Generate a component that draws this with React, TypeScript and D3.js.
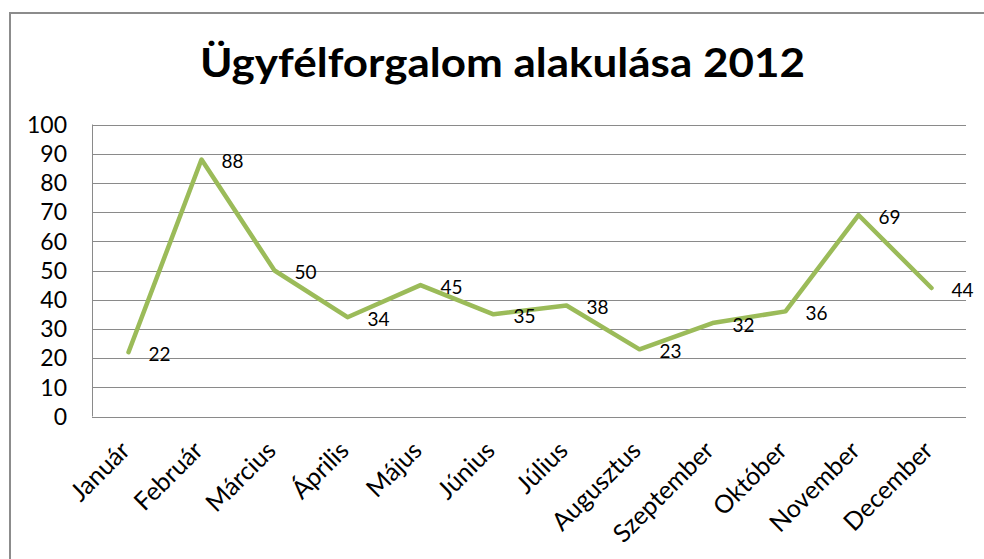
import React, { useEffect } from "react";
import * as d3 from "d3";

const months = ["Január", "Február", "Március", "Április", "Május", "Június", "Július", "Augusztus", "Szeptember", "Október", "November", "December"];
const values = [22, 88, 50, 34, 45, 35, 38, 23, 32, 36, 69, 44];
const yTicks = [0, 10, 20, 30, 40, 50, 60, 70, 80, 90, 100];
const title = "Ügyfélforgalom alakulása 2012";

const W = 984;
const H = 559;
const plot = { left: 92, right: 968, top: 124.5, bottom: 416.5 };
const FONT = "Lato, 'Open Sans', sans-serif";

export default function App() {
  useEffect(() => {
    document.body.style.margin = "0";
    document.body.style.overflow = "hidden";
    document.documentElement.style.overflow = "hidden";
  }, []);

  const x = d3.scaleBand<string>().domain(months).range([plot.left, plot.right]);
  const y = d3.scaleLinear().domain([0, 100]).range([plot.bottom, plot.top]);
  const cx = (m: string) => (x(m) as number) + x.bandwidth() / 2;
  const line = d3
    .line<number>()
    .x((_, i) => cx(months[i]))
    .y((d) => y(d));

  return (
    <svg
      width={W}
      height={H}
      style={{ position: "absolute", left: 0, top: 0, display: "block", background: "#fff" }}
      fontFamily={FONT}
    >
      <rect x={0} y={0} width={W} height={H} fill="#fff" />
      <path d={`M10,${H} V13 H${W}`} fill="none" stroke="#8c8c8c" strokeWidth={2} />
      <text
        x={(200 + 805) / 2}
        y={77}
        textAnchor="middle"
        fontSize={41}
        fontWeight="bold"
        fill="#000"
        textLength={605}
        lengthAdjust="spacingAndGlyphs"
      >
        {title}
      </text>
      {yTicks.map((t) => (
        <g key={t}>
          <line x1={plot.left} x2={plot.right - 2} y1={Math.round(y(t)) + 0.5} y2={Math.round(y(t)) + 0.5} stroke="#8a8a8a" strokeWidth={1} />
          <text x={67} y={y(t)} dy="0.36em" textAnchor="end" fontSize={23} fill="#000">
            {t}
          </text>
        </g>
      ))}
      <line x1={plot.left + 0.5} x2={plot.left + 0.5} y1={plot.top} y2={plot.bottom} stroke="#8a8a8a" strokeWidth={1} />
      <path d={line(values) || ""} fill="none" stroke="#9BBB59" strokeWidth={4.5} strokeLinejoin="round" strokeLinecap="round" />
      {values.map((v, i) => (
        <text key={i} x={cx(months[i]) + 20} y={y(v)} dy="0.45em" fontSize={19} fill="#000">
          {v}
        </text>
      ))}
      {months.map((m) => (
        <text
          key={m}
          transform={`translate(${cx(m) + 3},${452}) rotate(-45)`}
          textAnchor="end"
          fontSize={25}
          fill="#000"
        >
          {m}
        </text>
      ))}
    </svg>
  );
}
